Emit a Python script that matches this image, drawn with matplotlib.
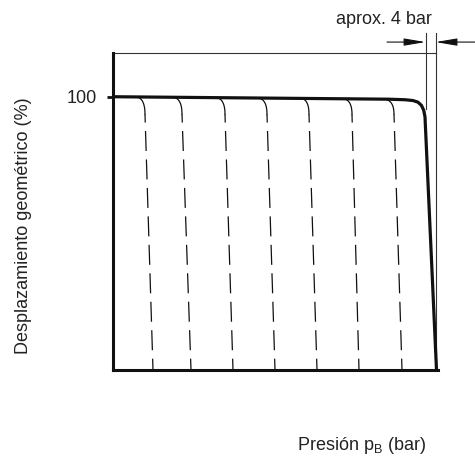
import numpy as np
import matplotlib
matplotlib.use("Agg")
import matplotlib.pyplot as plt

plt.rcParams['font.family'] = ['Liberation Sans', 'DejaVu Sans']
plt.rcParams['lines.scale_dashes'] = False

# full-load characteristic: pressure (bar) vs geometric displacement (%)
main_p = [0, 110.0, 116.8, 120.0, 122.0, 123.4, 124.3, 124.8, 129.4]
main_q = [100, 99.1, 98.9, 98.6, 98.0, 96.8, 95.0, 92.6, 0]

# part-load branches: leave the main line, knee, end on the axis
branch_start = [8.8, 23.6, 40.8, 57.6, 74.8, 91.6, 108.0]
branch_knee = [12.8, 27.6, 44.8, 61.6, 78.4, 95.6, 112.4]
branch_end = [16.0, 31.2, 48.0, 64.8, 81.6, 98.4, 115.6]
knee_q = 93.5

# the ~4 bar band at the end
band = [125.0, 129.0]
band_text = "aprox. 4 bar"
ytick_vals = [100]
ytick_labels = ["100"]

W, H = 475, 457
fig = plt.figure(figsize=(W / 100, H / 100), dpi=100)
ax = fig.add_axes([113 / W, (H - 370) / H, 325 / W, 317 / H])
ax.set_xlim(0, 130)
ax.set_ylim(0, 116)

ink = '#111111'
for s in ['top', 'right']:
    ax.spines[s].set_visible(False)
for s in ['left', 'bottom']:
    ax.spines[s].set_linewidth(2.2)
    ax.spines[s].set_color(ink)

ax.set_xticks([])
ax.set_yticks(ytick_vals)
ax.set_yticklabels(ytick_labels, fontsize=13, color='#222222')
ax.tick_params(axis='y', length=4.3, width=2.0, pad=7, color=ink)

# top frame line and band limits
ax.plot([0, band[1]], [116, 116], color='#333333', lw=0.8, clip_on=False)
ax.plot([band[0], band[0]], [123.3, 95.5], color='#333333', lw=0.8, clip_on=False)
ax.plot([band[1], band[1]], [123.3, 0], color='#333333', lw=0.8, clip_on=False)

# main curve
ax.plot(main_p, main_q, color=ink, lw=2.3, solid_joinstyle='round',
        solid_capstyle='butt', clip_on=False, zorder=3)

# part-load branches
t = np.linspace(0, 1, 25)
for s, k, e in zip(branch_start, branch_knee, branch_end):
    q0 = np.interp(s, main_p, main_q)
    bx = (1 - t) ** 2 * s + 2 * t * (1 - t) * k + t ** 2 * k
    by = (1 - t) ** 2 * q0 + 2 * t * (1 - t) * q0 + t ** 2 * knee_q
    ax.plot(bx, by, color=ink, lw=0.9)
    ax.plot([k, e], [knee_q, 0], color=ink, lw=0.9,
            linestyle=(8.6, (14.4, 6.1)))

# arrows marking the band
arrow = dict(arrowstyle='-|>,head_length=1.3,head_width=0.22', color=ink,
             lw=0.8, shrinkA=0, shrinkB=0)
ax.annotate('', xy=(band[0], 120), xytext=(109.6, 120), arrowprops=arrow,
            annotation_clip=False)
ax.annotate('', xy=(band[1], 120), xytext=(145.0, 120), arrowprops=arrow,
            annotation_clip=False)

fig.text(384 / W, 1 - 24 / H, band_text, ha='center', va='baseline',
         fontsize=13, color='#222222')
fig.text(24 / W, 1 - 226 / H, 'Desplazamiento geométrico (%)', rotation=90,
         ha='center', va='center', fontsize=13, color='#222222')
fig.text(362 / W, 1 - 445 / H, r'Presión p$_\mathregular{B}$ (bar)',
         ha='center', va='center', fontsize=13, color='#222222')

fig.savefig('out.png', dpi=100)
